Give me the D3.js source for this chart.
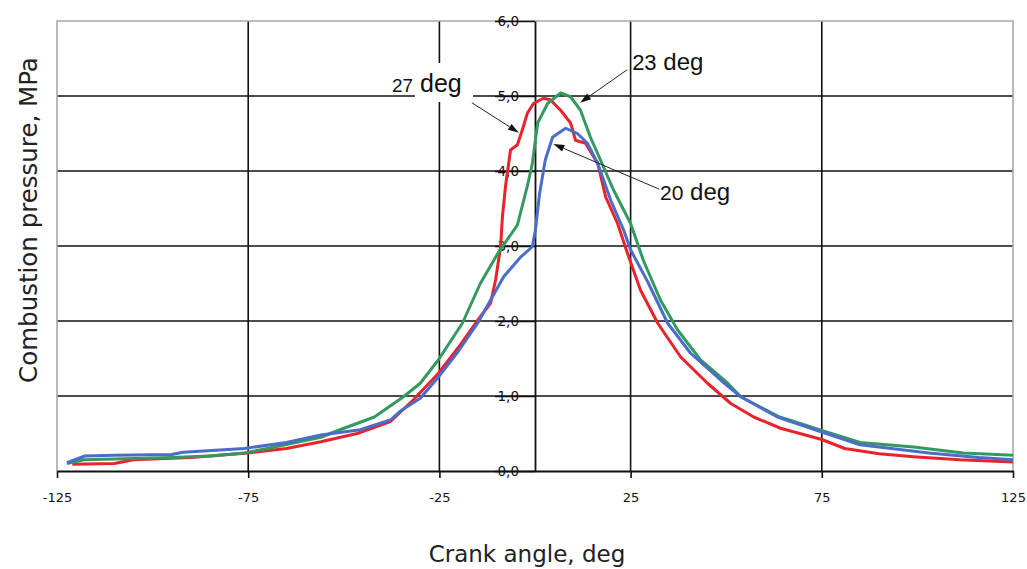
<!DOCTYPE html>
<html lang="en">
<head>
    <meta charset="UTF-8">
    <title>Combustion pressure vs crank angle</title>
    <script src="https://d3js.org/d3.v7.min.js"></script>
    <style>
        body { margin: 0; background: #fff; }
        svg { display: block; }
        .grid line { stroke: #111; stroke-width: 1.6; }
        .frame { stroke: #a8a8a8; stroke-width: 1.6; fill: none; }
        .tick-label { font-family: "DejaVu Sans", sans-serif; fill: #111; }
        .title { font-family: "DejaVu Sans", sans-serif; fill: #222; }
        .note { font-family: "Liberation Sans", Arial, sans-serif; fill: #111; }
        .curve { fill: none; stroke-width: 3; stroke-linejoin: round; }
    </style>
</head>
<body>
<div id="chart"></div>
<script>
    // x ticks and y ticks
    const xTicks = [-125, -75, -25, 25, 75, 125];
    const yTicks = [0, 1, 2, 3, 4, 5, 6];
    const yTickLabels = ["0,0", "1,0", "2,0", "3,0", "4,0", "5,0", "6,0"];

    // 27 deg (red)
    const angle27 = [-121, -110, -105, -90, -80, -75, -65, -56, -46.5, -37.8, -31.8, -25.3, -20, -15, -11.6, -10.3, -9, -8.5, -7.7, -6.4, -4.6, -3.3, -2, -0.4, 2.2, 4, 6.7, 9.3, 10.6, 13.2, 16.4, 18.5, 21.6, 24.2, 27.6, 32.1, 38.1, 45.1, 51.2, 57.2, 64.2, 75, 81, 90, 99, 111, 125];
    const pressure27 = [0.09, 0.1, 0.15, 0.18, 0.22, 0.24, 0.3, 0.39, 0.5, 0.66, 0.95, 1.3, 1.65, 2.01, 2.24, 2.55, 2.99, 3.4, 3.8, 4.28, 4.35, 4.55, 4.77, 4.9, 4.97, 4.95, 4.81, 4.64, 4.41, 4.37, 4.1, 3.65, 3.3, 2.9, 2.41, 1.97, 1.52, 1.17, 0.9, 0.72, 0.57, 0.42, 0.3, 0.23, 0.19, 0.15, 0.12];

    // 23 deg (green)
    const angle23 = [-122.4, -118, -110, -95, -85, -76, -70, -56, -51, -42, -34.4, -30, -25.3, -19, -14.3, -9.5, -4.6, -2, -0.7, 0.7, 3.3, 6.7, 9.3, 11.9, 14.5, 17.1, 20.5, 25, 28.4, 32.8, 37.3, 43.3, 50.4, 53.8, 59, 64, 75, 85, 99, 112, 125];
    const pressure23 = [0.1, 0.15, 0.16, 0.18, 0.2, 0.24, 0.3, 0.45, 0.55, 0.72, 0.99, 1.17, 1.48, 1.97, 2.5, 2.92, 3.28, 3.8, 4.1, 4.64, 4.9, 5.04, 4.99, 4.81, 4.45, 4.15, 3.75, 3.3, 2.8, 2.28, 1.88, 1.48, 1.17, 0.99, 0.85, 0.72, 0.54, 0.38, 0.32, 0.24, 0.21];

    // 20 deg (blue)
    const angle20 = [-122.4, -117.7, -110, -95, -92, -76, -65, -56, -45.7, -37.8, -35.2, -30, -25.3, -20, -15, -8.2, -3.8, -0.7, 0.1, 1.2, 2.7, 4.6, 8, 11.1, 13.7, 16.4, 19.8, 23.2, 25, 29.5, 34.7, 40.7, 48.6, 53.8, 63.4, 75, 85, 103, 116, 125];
    const pressure20 = [0.11, 0.2, 0.21, 0.22, 0.25, 0.3, 0.38, 0.48, 0.55, 0.68, 0.8, 0.97, 1.25, 1.6, 1.97, 2.59, 2.85, 2.99, 3.21, 3.7, 4.15, 4.45, 4.57, 4.5, 4.37, 4.1, 3.61, 3.21, 2.95, 2.52, 1.97, 1.57, 1.21, 0.99, 0.72, 0.52, 0.35, 0.24, 0.18, 0.15];

    const series = [
        { angle: angle27, pressure: pressure27, color: "#e8232b" },
        { angle: angle23, pressure: pressure23, color: "#33995f" },
        { angle: angle20, pressure: pressure20, color: "#4a6dca" }
    ];

    // annotations, in data units (label baseline, arrow start and tip)
    const notes = [
        { num: "27", numSize: 19, degSize: 25, lx: -37.4, ly: 5.05, from: [-16.5, 4.91], to: [-4.2, 4.51], box: [-31.4, 5.44, -16.2, 4.92] },
        { num: "23", numSize: 22, degSize: 24, lx: 25.4, ly: 5.35, from: [24.1, 5.35], to: [11.8, 4.91] },
        { num: "20", numSize: 21, degSize: 24, lx: 32.7, ly: 3.61, from: [32.4, 3.76], to: [4.8, 4.36] }
    ];

    const width = 1027, height = 569;
    const x = d3.scaleLinear().domain([-125, 125]).range([57, 1013]);
    const y = d3.scaleLinear().domain([0, 6]).range([471, 21]);

    const svg = d3.select("#chart").append("svg")
        .attr("width", width)
        .attr("height", height);

    // grid
    const grid = svg.append("g").attr("class", "grid");
    grid.selectAll(".h").data([1, 2, 3, 4, 5]).enter().append("line")
        .attr("x1", x(-125)).attr("x2", x(125))
        .attr("y1", d => y(d)).attr("y2", d => y(d));
    grid.selectAll(".v").data([-75, -25, 25, 75]).enter().append("line")
        .attr("x1", d => x(d)).attr("x2", d => x(d))
        .attr("y1", y(6)).attr("y2", y(0));

    // frame (left, top, right)
    svg.append("path").attr("class", "frame")
        .attr("d", `M${x(-125)},${y(0)}V${y(6)}H${x(125)}V${y(0)}`);

    // white box behind "27 deg"
    notes.filter(n => n.box).forEach(n => {
        svg.append("rect")
            .attr("x", x(n.box[0])).attr("y", y(n.box[1]))
            .attr("width", x(n.box[2]) - x(n.box[0]))
            .attr("height", y(n.box[3]) - y(n.box[1]))
            .attr("fill", "#fff");
    });

    // x axis
    const xAxis = svg.append("g")
        .attr("transform", `translate(0,${y(0)})`)
        .call(d3.axisBottom(x).tickValues(xTicks).tickSize(7).tickSizeOuter(0).tickFormat(d => String(d)));
    xAxis.select(".domain").attr("stroke", "#111").attr("stroke-width", 1.8);
    xAxis.selectAll(".tick line").attr("stroke", "#111").attr("stroke-width", 1.6);
    xAxis.selectAll(".tick text")
        .attr("class", "tick-label")
        .attr("y", 31)
        .attr("dy", 0)
        .style("font-size", "13px");

    // y axis at x = 0
    const yAxis = svg.append("g")
        .attr("transform", `translate(${x(0)},0)`)
        .call(d3.axisLeft(y).tickValues(yTicks).tickSize(40).tickSizeOuter(0)
            .tickFormat((d, i) => yTickLabels[i]));
    yAxis.select(".domain").attr("stroke", "#111").attr("stroke-width", 1.8);
    yAxis.selectAll(".tick line").attr("stroke", "#111").attr("stroke-width", 1.4);
    yAxis.selectAll(".tick text")
        .attr("class", "tick-label")
        .attr("x", -16)
        .style("font-size", "13.5px");

    // curves
    const line = d3.line()
        .x(d => x(d[0]))
        .y(d => y(d[1]));
    series.forEach(s => {
        svg.append("path")
            .datum(s.angle.map((a, i) => [a, s.pressure[i]]))
            .attr("class", "curve")
            .attr("stroke", s.color)
            .attr("d", line);
    });

    // arrows and labels
    notes.forEach(n => {
        const x1 = x(n.from[0]), y1 = y(n.from[1]);
        const x2 = x(n.to[0]), y2 = y(n.to[1]);
        const ang = Math.atan2(y2 - y1, x2 - x1);
        const len = 11, half = 3.5;
        const bx = x2 - len * Math.cos(ang), by = y2 - len * Math.sin(ang);
        svg.append("line")
            .attr("x1", x1).attr("y1", y1).attr("x2", bx).attr("y2", by)
            .attr("stroke", "#222").attr("stroke-width", 1);
        svg.append("path")
            .attr("d", `M${x2},${y2}L${bx + half * Math.sin(ang)},${by - half * Math.cos(ang)}L${bx - half * Math.sin(ang)},${by + half * Math.cos(ang)}Z`)
            .attr("fill", "#111");
        const t = svg.append("text").attr("class", "note")
            .attr("x", x(n.lx)).attr("y", y(n.ly));
        t.append("tspan").style("font-size", n.numSize + "px").text(n.num);
        t.append("tspan").style("font-size", n.degSize + "px").text(" deg");
    });

    // axis titles
    svg.append("text").attr("class", "title")
        .attr("x", 527).attr("y", 562)
        .attr("text-anchor", "middle")
        .style("font-size", "23px")
        .text("Crank angle, deg");
    svg.append("text").attr("class", "title")
        .attr("transform", "translate(37,220) rotate(-90)")
        .attr("text-anchor", "middle")
        .style("font-size", "24.5px")
        .text("Combustion pressure, MPa");
</script>
</body>
</html>
